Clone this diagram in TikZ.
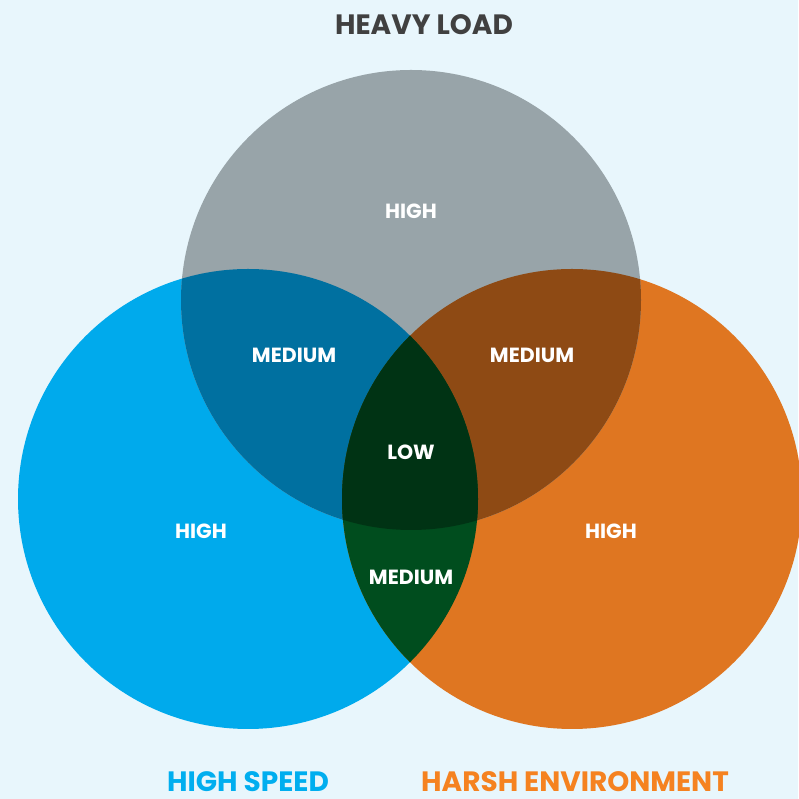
\documentclass[tikz,border=0pt]{standalone}
\usepackage{fontspec}
\setmainfont{Poppins}
\definecolor{bgblue}{HTML}{E8F6FC}
\definecolor{loadgray}{HTML}{98A4A9}
\definecolor{speedblue}{HTML}{00AAEC}
\definecolor{harshorange}{HTML}{DF7621}
\definecolor{loadspeed}{HTML}{0070A0}
\definecolor{loadharsh}{HTML}{8E4A14}
\definecolor{speedharsh}{HTML}{004D1E}
\definecolor{allthree}{HTML}{003314}
\definecolor{titlegray}{HTML}{404040}
\definecolor{speedtext}{HTML}{00AEEF}
\definecolor{harshtext}{HTML}{F58220}

\begin{document}
\begin{tikzpicture}[
    x=1pt, y=1pt,
    lbl/.style={
        text=white, inner sep=0pt, font=\fontsize{20.5}{23}\selectfont\bfseries
    },
    ttl/.style={
        inner sep=0pt, font=\fontsize{28}{31}\selectfont\bfseries
    }
]

    \fill[bgblue] (0,0) rectangle (798,799);
    \useasboundingbox (0,0) rectangle (798,799);

    \def\loadcirc{(411,499) circle[radius=230]}
    \def\speedcirc{(248,300) circle[radius=230]}
    \def\harshcirc{(572,300) circle[radius=230]}

    \fill[speedblue] \speedcirc;
    \fill[harshorange] \harshcirc;
    \fill[loadgray] \loadcirc;
    \begin{scope}
        \clip \loadcirc;
        \fill[loadspeed] \speedcirc;
        \fill[loadharsh] \harshcirc;
    \end{scope}
    \begin{scope}
        \clip \speedcirc;
        \fill[speedharsh] \harshcirc;
        \clip \loadcirc;
        \fill[allthree] \harshcirc;
    \end{scope}

    \node[ttl,text=titlegray] (load) at (424,774) {HEAVY LOAD};
    \node[ttl,text=speedtext] (speed) at (248,17) {HIGH SPEED};
    \node[ttl,text=harshtext] (harsh) at (575,17) {HARSH ENVIRONMENT};

    \node[lbl] (h1) at (411,588) {HIGH};
    \node[lbl] (h2) at (201,268) {HIGH};
    \node[lbl] (h3) at (611,268) {HIGH};
    \node[lbl] (m1) at (294,444) {MEDIUM};
    \node[lbl] (m2) at (532,444) {MEDIUM};
    \node[lbl] (m3) at (411,222) {MEDIUM};
    \node[lbl] (low) at (411,347) {LOW};

\end{tikzpicture}
\end{document}
